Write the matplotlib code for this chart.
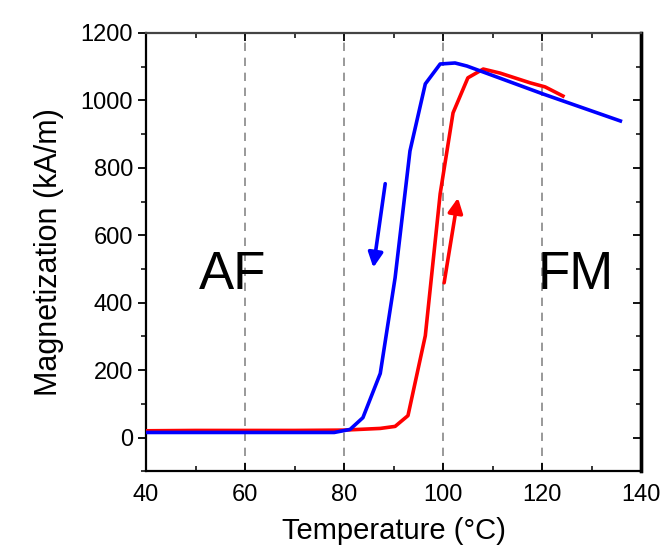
import matplotlib.pyplot as plt
from matplotlib.ticker import MultipleLocator

plt.rcParams['font.family'] = ['Liberation Sans', 'DejaVu Sans']

# cooling curve (blue)
temp_cool = [40, 50, 60, 70, 78, 81.2, 83.8, 87.3, 90.3, 93.3, 96.4, 99.4, 102.4, 104.8, 120, 135.8]
mag_cool = [15, 15, 15, 15, 15, 24, 59, 190, 474, 850, 1049, 1108, 1111, 1102, 1020, 939]

# heating curve (red)
temp_heat = [40, 50, 60, 70, 80, 87.3, 90.3, 92.9, 96.4, 99.4, 102, 105, 108.1, 111.5, 117.6, 120.6, 124.2]
mag_heat = [20, 21, 21, 21, 22, 27, 33, 65, 302, 723, 963, 1067, 1093, 1081, 1052, 1040, 1013]

grid_temps = [60, 80, 100, 120]

fig = plt.figure(figsize=(6.61, 5.59), dpi=100)
ax = fig.add_axes([0.221, 0.157, 0.749, 0.784])

for t in grid_temps:
    ax.axvline(t, color='#888888', lw=1.2, ls=(0, (5, 4)), zorder=1)

ax.plot(temp_heat, mag_heat, color='#ff0000', lw=2.6, zorder=3)
ax.plot(temp_cool, mag_cool, color='#0000ff', lw=2.6, zorder=4)

# direction arrows
ax.annotate('', xy=(85.9, 504), xytext=(88.3, 753),
            arrowprops=dict(arrowstyle='-|>', color='#0000ff', lw=2.6,
                            mutation_scale=22, shrinkA=0, shrinkB=0))
ax.annotate('', xy=(103.0, 711), xytext=(100.2, 459),
            arrowprops=dict(arrowstyle='-|>', color='#ff0000', lw=2.6,
                            mutation_scale=22, shrinkA=0, shrinkB=0))

ax.text(57.4, 482, 'AF', fontsize=38, ha='center', va='center')
ax.text(126.7, 482, 'FM', fontsize=38, ha='center', va='center')

ax.set_xlim(40, 140)
ax.set_ylim(-100, 1200)
ax.xaxis.set_major_locator(MultipleLocator(20))
ax.xaxis.set_minor_locator(MultipleLocator(10))
ax.yaxis.set_major_locator(MultipleLocator(200))
ax.yaxis.set_minor_locator(MultipleLocator(100))

ax.tick_params(axis='x', which='both', direction='in', top=True, labelsize=17, pad=9)
ax.tick_params(axis='y', which='both', direction='out', right=False, labelsize=17)
ax.tick_params(which='major', length=6, width=1.3)
ax.tick_params(which='minor', length=3.5, width=1.1)

sec = ax.secondary_yaxis('right')
sec.yaxis.set_major_locator(MultipleLocator(200))
sec.yaxis.set_minor_locator(MultipleLocator(100))
sec.tick_params(which='both', direction='in', labelright=False)
sec.tick_params(which='major', length=6, width=1.3)
sec.tick_params(which='minor', length=3.5, width=1.1)
sec.spines['right'].set_linewidth(2.4)

for side in ['left', 'bottom', 'top']:
    ax.spines[side].set_linewidth(1.6)
ax.spines['top'].set_color('#444444')
ax.spines['right'].set_linewidth(2.4)

ax.set_xlabel('Temperature (°C)', fontsize=21, labelpad=8)
ax.set_ylabel('Magnetization (kA/m)', fontsize=22, labelpad=12)

fig.savefig('out.png', dpi=100)
